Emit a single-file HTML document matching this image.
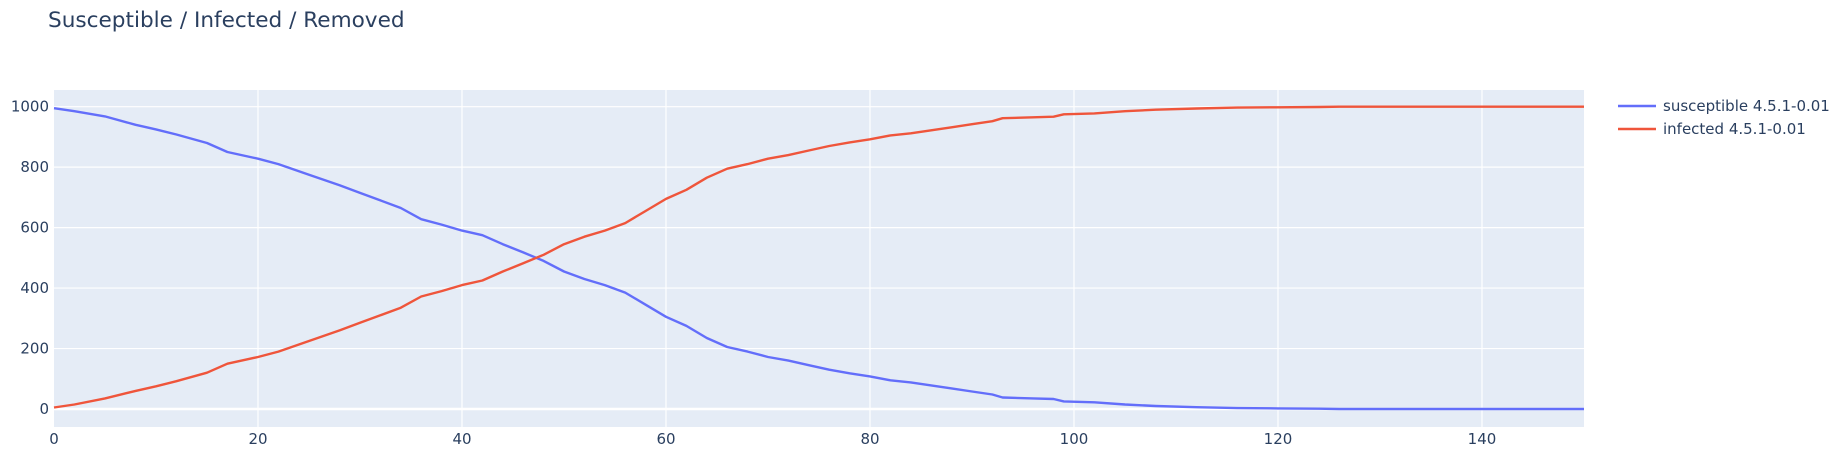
<!DOCTYPE html>
<html><head><meta charset="utf-8"><style>
body{margin:0;background:#fff;width:1845px;height:450px;overflow:hidden}
svg text{font-family:"DejaVu Sans","Liberation Sans",sans-serif;fill:#2a3f5f}
</style></head><body>
<svg id="chart" width="1845" height="450" xmlns="http://www.w3.org/2000/svg">
<text x="48" y="27" font-size="21.6">Susceptible / Infected / Removed</text>
<rect x="54" y="90" width="1530" height="337" fill="#e5ecf6"/>
<g id="grid"></g><g id="series"></g>
<g>
<line x1="1618" y1="106" x2="1656" y2="106" stroke="#636efa" stroke-width="2.4"/>
<text x="1663" y="111" font-size="15">susceptible 4.5.1-0.01</text>
<line x1="1618" y1="129" x2="1656" y2="129" stroke="#EF553B" stroke-width="2.4"/>
<text x="1663" y="134" font-size="15">infected 4.5.1-0.01</text>
</g>
</svg>
<script>
const xTicks=[0,20,40,60,80,100,120,140];
const yTicks=[0,200,400,600,800,1000];
const tS=[0,2,5,8,10,12,15,17,20,22,25,28,30,32,34,36,38,40,42,44,46,48,50,52,54,56,58,60,62,64,66,68,70,72,74,76,78,80,82,84,86,88,90,92,93,96,98,99,102,105,108,112,116,120,124,126,150];
const susceptible=[995,985,968,940,925,908,880,850,828,810,775,740,715,690,665,628,610,590,575,545,518,490,455,430,410,385,345,305,275,235,205,190,172,160,145,130,118,108,95,88,78,68,58,48,38,35,33,25,22,15,10,6,3,2,1,0,0];
const infected=[5,15,35,60,75,92,120,150,172,190,225,260,285,310,335,372,390,410,425,455,482,510,545,570,590,615,655,695,725,765,795,810,828,840,855,870,882,892,905,912,922,932,942,952,962,965,967,975,978,985,990,994,997,998,999,1000,1000];
const X=t=>54+t*10.2, Y=v=>409-v*0.3023;
const NS='http://www.w3.org/2000/svg';
const svg=document.getElementById('chart'),g=document.getElementById('grid'),s=document.getElementById('series');
function mk(tag,attrs,parent){const e=document.createElementNS(NS,tag);for(const k in attrs)e.setAttribute(k,attrs[k]);parent.appendChild(e);return e;}
xTicks.forEach(t=>{
 const l=mk('line',{x1:X(t),x2:X(t),y1:90,y2:427,stroke:'#fff','stroke-width':t===0?0:1.2},g);
 
 
 const tx=mk('text',{x:X(t),y:444,'font-size':15,'text-anchor':'middle'},svg);
 tx.textContent=t;
 
 
});
yTicks.forEach(v=>{
 const l=mk('line',{x1:54,x2:1584,y1:Y(v),y2:Y(v),stroke:'#fff','stroke-width':v===0?2.4:1.2},g);
 
 
 const tx=mk('text',{x:49,y:Y(v)+5,'font-size':15,'text-anchor':'end'},svg);
 tx.textContent=v;
 
 
});
function line(vals,color,name){
 const d=vals.map((v,i)=>(i?'L':'M')+X(tS[i]).toFixed(1)+','+Y(v).toFixed(1)).join('');
 const p=mk('path',{d:d,fill:'none',stroke:color,'stroke-width':2.4,'stroke-linejoin':'round'},s);
 
 
}
line(susceptible,'#636efa','susceptible-line');
line(infected,'#EF553B','infected-line');
</script>
</body></html>
